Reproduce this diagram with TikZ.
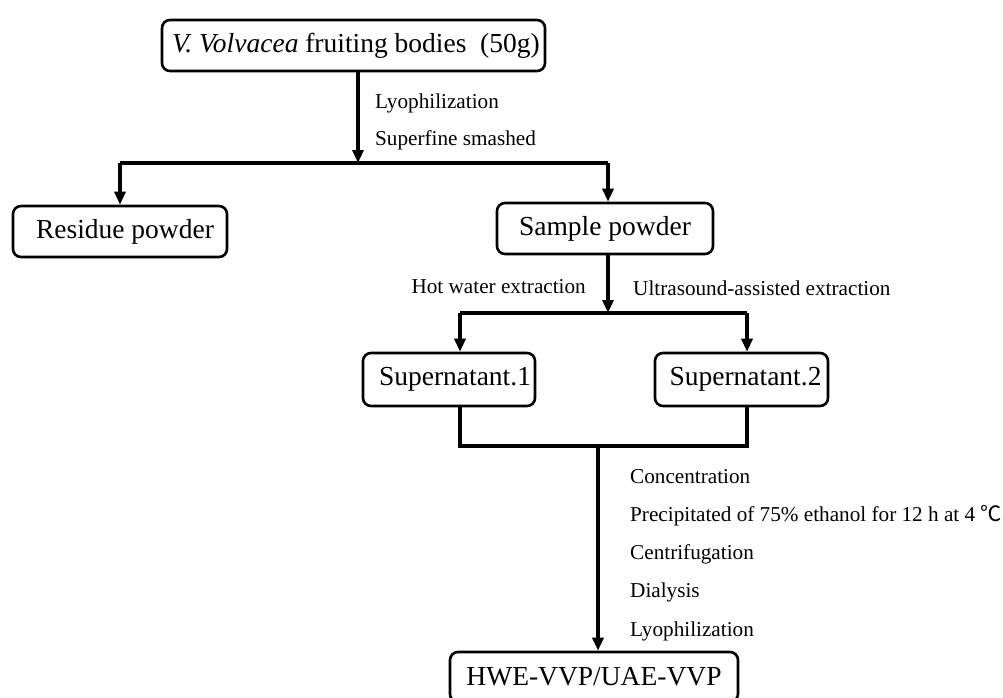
\documentclass[tikz,border=0pt]{standalone}
\usepackage{fontspec}
\setmainfont{Liberation Serif}
\newfontfamily\cjk{Noto Sans CJK SC}
\usetikzlibrary{arrows.meta}
\begin{document}
\begin{tikzpicture}[x=1pt,y=-1pt,
  box/.style={draw, line width=2.6pt, rounded corners=8pt, inner sep=0pt, font=\fontsize{27.5}{32}\selectfont},
  lbl/.style={anchor=west, inner sep=0pt, font=\fontsize{21.2}{25}\selectfont},
  ln/.style={line width=3.2pt},
  arr/.style={line width=3.2pt, -{Triangle[length=13pt,width=11pt]}}]
\useasboundingbox (0,0) rectangle (1003,698);
\clip (0,0) rectangle (1003,698);
% boxes
\node[box, minimum width=383pt, minimum height=51pt] (top) at (353.5,45.5) {\hspace*{5pt}\textit{V. Volvacea} fruiting bodies~~(50g)};
\node[box, minimum width=214pt, minimum height=51pt] (res) at (120,231.5) {\hspace*{10pt}Residue powder};
\node[box, minimum width=216pt, minimum height=51pt] (smp) at (605,228.5) {Sample powder};
\node[box, minimum width=172pt, minimum height=53pt] (s1) at (449,379.5) {\hspace*{12pt}Supernatant.1};
\node[box, minimum width=173pt, minimum height=53pt] (s2) at (741.5,379.5) {\hspace*{8pt}Supernatant.2};
\node[box, minimum width=288pt, minimum height=50pt] (fin) at (594,677) {HWE-VVP/UAE-VVP};
% coordinates
\coordinate (j1) at (358,163);
\coordinate (j1l) at (120,163);
\coordinate (j1r) at (608,163);
\coordinate (j2) at (608,313);
\coordinate (j2l) at (460,313);
\coordinate (j2r) at (747,313);
\coordinate (b1) at (460,446);
\coordinate (b2) at (747,446);
\coordinate (bm) at (598,446);
% connectors
\draw[arr] (j1 |- top.south) -- (j1);
\draw[ln] (j1l) -- (j1r);
\draw[arr] (j1l) -- (j1l |- res.north);
\draw[arr] (j1r) -- (j1r |- smp.north);
\draw[arr] (j2 |- smp.south) -- (j2);
\draw[ln] (j2l) -- (j2r);
\draw[arr] (j2l) -- (j2l |- s1.north);
\draw[arr] (j2r) -- (j2r |- s2.north);
\draw[ln] (b1 |- s1.south) -- (b1) -- (b2) -- (b2 |- s2.south);
\draw[arr] (bm) -- (bm |- fin.north);
% labels
\node[lbl] (l1) at (375,103) {Lyophilization};
\node[lbl] (l2) at (375,140) {Superfine smashed};
\node[lbl, anchor=east] (l3) at (586,287) {Hot water extraction};
\node[lbl] (l4) at (633,288) {Ultrasound-assisted extraction};
\node[lbl] (l5) at (630,477) {Concentration};
\node[lbl] (l6) at (630,516) {Precipitated of 75\% ethanol for 12 h at 4 {\cjk ℃}};
\node[lbl] (l7) at (630,554) {Centrifugation};
\node[lbl] (l8) at (630,592) {Dialysis};
\node[lbl] (l9) at (630,631) {Lyophilization};
\end{tikzpicture}
\end{document}
